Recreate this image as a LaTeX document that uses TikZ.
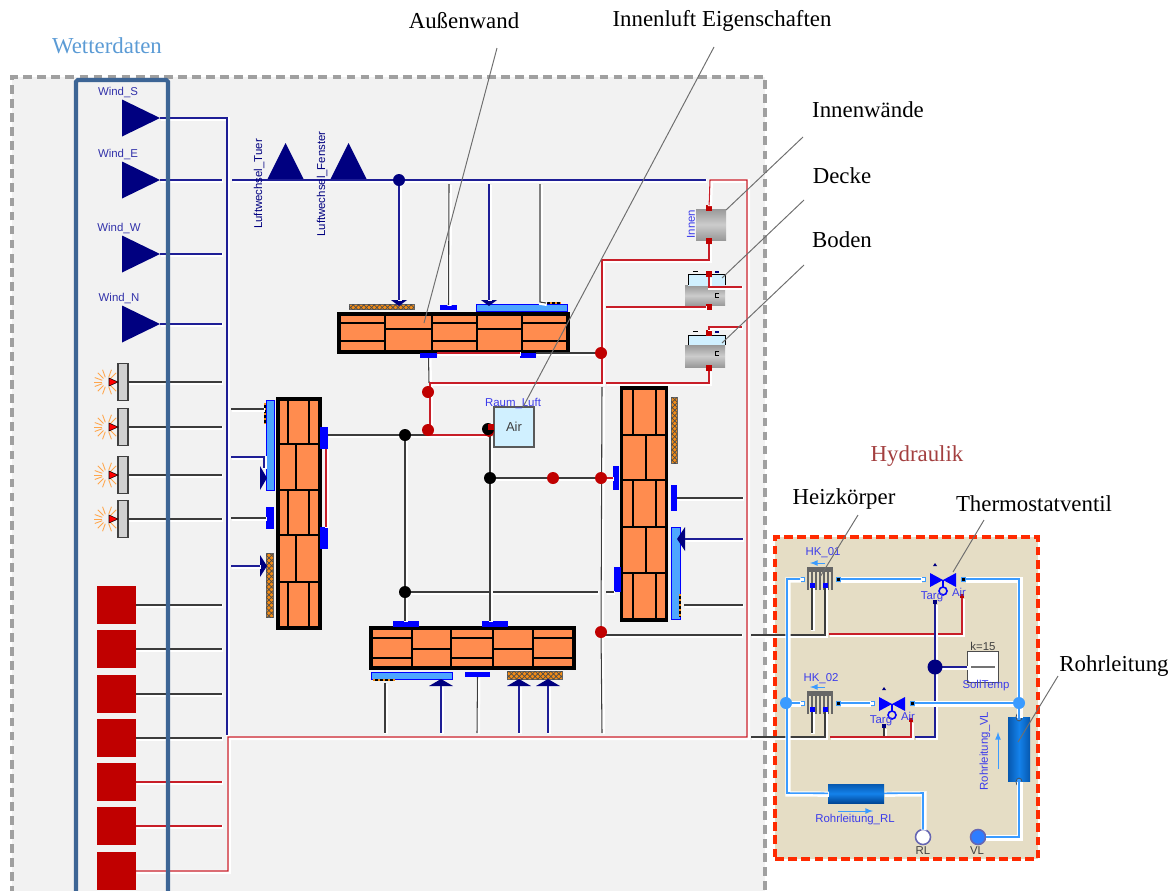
\documentclass[tikz,border=0pt]{standalone}
\usepackage{xcolor}
\usepackage{fontspec}
\usetikzlibrary{patterns}
\setmainfont{Liberation Serif}
\newfontfamily\modelfont{Liberation Sans}
\definecolor{room_gray}{RGB}{242,242,242}
\definecolor{dash_gray}{RGB}{160,160,160}
\definecolor{weather_blue}{RGB}{61,101,149}
\definecolor{weather_text}{RGB}{91,155,213}
\definecolor{hydro_text}{RGB}{163,63,63}
\definecolor{hydro_tan}{RGB}{229,221,197}
\definecolor{hydro_red}{RGB}{255,42,0}
\definecolor{brick_orange}{RGB}{255,140,79}
\definecolor{strip_orange}{RGB}{245,140,20}
\definecolor{pad_blue}{RGB}{0,0,255}
\definecolor{glass_blue}{RGB}{77,166,255}
\definecolor{air_cyan}{RGB}{208,240,255}
\definecolor{navy_wire}{RGB}{0,0,128}
\definecolor{navy_line}{RGB}{30,30,150}
\definecolor{red_wire}{RGB}{200,30,40}
\definecolor{red_dot}{RGB}{192,0,0}
\definecolor{black_wire}{RGB}{60,60,60}
\definecolor{water_blue}{RGB}{58,155,255}
\definecolor{pipe_blue}{RGB}{20,130,235}
\definecolor{pipe_dark}{RGB}{0,70,150}
\definecolor{label_blue}{RGB}{60,60,235}
\definecolor{wind_label}{RGB}{50,50,170}
\definecolor{leader_gray}{RGB}{110,110,110}
\tikzset{
  sized/.style 2 args={minimum width=#1*0.02cm,minimum height=#2*0.02cm},
  halo/.style={preaction={draw=white,line width=#1,transform canvas={xshift=.5pt,yshift=-.5pt}}},
  navywire/.style={draw=navy_line,line width=.7pt,halo=2.4pt},
  blackwire/.style={draw=black_wire,line width=.6pt,halo=2.4pt},
  redwire/.style={draw=red_wire,line width=.6pt,halo=2.4pt},
  waterwire/.style={draw=water_blue,line width=.9pt,halo=3pt},
  brick/.style={black,line width=1.5pt},
  wallbox/.style={draw=black,line width=1.8pt,fill=brick_orange},
  padbox/.style={fill=pad_blue},
  glassbox/.style={draw=pad_blue,line width=.5pt,fill=glass_blue},
  hatchbox/.style={draw=black!60,line width=.4pt,fill=strip_orange,postaction={pattern=crosshatch,pattern color=black!70}},
  reddot/.style={circle,fill=red_dot,minimum size=0.24cm},
  blackdot/.style={circle,fill=black,minimum size=0.24cm},
  navydot/.style={circle,fill=navy_wire,minimum size=0.24cm},
  waterdot/.style={circle,fill=water_blue,minimum size=0.24cm},
  smallred/.style={fill=red_dot,minimum size=0.11cm},
  greyblock/.style={top color=black!40,bottom color=black!40,middle color=black!20},
  modellabel/.style={font=\modelfont\fontsize{6.5}{7}\selectfont,text=label_blue},
  sidetext/.style={font=\fontsize{13}{15}\selectfont,text=black},
  leader/.style={draw=leader_gray,line width=.55pt}
}

\begin{document}
\begin{tikzpicture}[x=0.02cm,y=-0.02cm,every node/.style={inner sep=0pt,outer sep=0pt}]
  \clip (0,0) rectangle (1175,890);

  % Room
  \fill[room_gray] (12,77) rectangle (765,895);
  \draw[dash_gray,line width=1.8pt,dash pattern=on 5pt off 3pt] (12,895) -- (12,77) -- (765,77) -- (765,895);

  % Hydraulik box
  \node[fill=hydro_tan,draw=hydro_red,line width=1.8pt,dash pattern=on 5pt off 2.5pt,sized={263}{322}] (hydroBox) at (906.5,698) {};

  % Wind sources
  \foreach \name/\ypos in {S/118,E/180,W/254,N/324} {
    \fill[navy_wire] (122,\ypos-18.5) -- (160,\ypos) -- (122,\ypos+18.5) -- cycle;
    \coordinate (wind\name) at (160,\ypos);
    \coordinate (stub\name) at (222,\ypos);
  }

  % Air change sources
  \foreach \name/\xpos in {Tuer/285.5,Fenster/348.5} {
    \fill[navy_wire] (\xpos-18.5,180) -- (\xpos,143) -- (\xpos+18.5,180) -- cycle;
  }

  % Lamps
  \foreach \i/\ypos in {1/382,2/427,3/475,4/519} {
    \foreach \a in {45,70,110,135,160,180,200,225,250,290,315} {
      \draw[orange!70,line width=.5pt] ([shift={(\a:5)}]107,\ypos) -- ([shift={(\a:13)}]107,\ypos);
    }
    \node[draw=black!75,line width=.6pt,fill=black!18,sized={10}{37}] (lamp\i) at (123,\ypos) {};
    \fill[red,draw=black,line width=.3pt] (109,\ypos-4) -- (118,\ypos) -- (109,\ypos+4) -- cycle;
    \coordinate (lampEnd\i) at (222,\ypos);
  }

  % Red inputs
  \foreach \i/\ypos in {1/605,2/649,3/694,4/738,5/782,6/826,7/871} {
    \node[fill=red_dot,sized={39}{38}] (input\i) at (116.5,\ypos) {};
    \coordinate (inputEnd\i) at (222,\ypos);
  }

  % Wall north
  \node[wallbox,sized={229}{38}] (wallNorth) at (453.5,333) {};
  \foreach \xpos in {385,432,477,522} \draw[brick] (\xpos,314) -- (\xpos,352);
  \foreach \xa/\xb in {339/385,432/477,522/568} {
    \draw[brick] (\xa,323) -- (\xb,323);
    \draw[brick] (\xa,341) -- (\xb,341);
  }
  \foreach \xa/\xb in {385/432,477/522} \draw[brick] (\xa,329) -- (\xb,329);

  % Wall south
  \node[wallbox,sized={203}{40}] (wallSouth) at (472.5,648) {};
  \foreach \xpos in {412,451,493,533} \draw[brick] (\xpos,628) -- (\xpos,668);
  \foreach \xa/\xb in {371/412,451/493,533/574} {
    \draw[brick] (\xa,638) -- (\xb,638);
    \draw[brick] (\xa,658) -- (\xb,658);
  }
  \foreach \xa/\xb in {412/451,493/533} \draw[brick] (\xa,649) -- (\xb,649);

  % Wall west
  \node[wallbox,sized={42}{229}] (wallWest) at (299,513.5) {};
  \foreach \ypos in {444,490,535,582} \draw[brick] (278,\ypos) -- (320,\ypos);
  \foreach \ya/\yb in {399/444,490/535,582/628} {
    \draw[brick] (288,\ya) -- (288,\yb);
    \draw[brick] (309,\ya) -- (309,\yb);
  }
  \foreach \ya/\yb in {444/490,535/582} \draw[brick] (296,\ya) -- (296,\yb);

  % Wall east
  \node[wallbox,sized={45}{232}] (wallEast) at (644,504) {};
  \foreach \ypos in {435,480,527,573} \draw[brick] (622,\ypos) -- (666,\ypos);
  \foreach \ya/\yb in {388/435,480/527,573/620} {
    \draw[brick] (633,\ya) -- (633,\yb);
    \draw[brick] (656,\ya) -- (656,\yb);
  }
  \foreach \ya/\yb in {435/480,527/573} \draw[brick] (646,\ya) -- (646,\yb);

  % Pads, strips and windows on the walls
  \foreach \name/\xpos/\ypos/\w/\h in {
    RoofA/448.5/307.5/17/5, NorthA/428.5/355.5/17/5, NorthB/528/355.5/16/5,
    WestA/324/438/8/22, WestB/324/538/8/22, WestC/270/518/8/22,
    SouthA/406/624/26/6, SouthB/495/624/26/6, SouthC/477.5/674.5/25/5,
    EastA/616/478/6/24, EastB/617.5/579.5/7/25, EastC/674/498/6/26} {
    \node[padbox,sized={\w}{\h}] (pad\name) at (\xpos,\ypos) {};
  }
  \foreach \name/\xpos/\ypos/\w/\h in {North/521.5/307.5/91/7, West/270/445/8/90, South/411.5/675.5/81/7, East/675.5/573/9/92} {
    \node[glassbox,sized={\w}{\h}] (glass\name) at (\xpos,\ypos) {};
  }
  \foreach \name/\xpos/\ypos/\w/\h in {North/381.5/306.5/65/5, West/269.5/585/7/64, South/534.5/675/55/8, East/674/430/6/66} {
    \node[hatchbox,sized={\w}{\h}] (strip\name) at (\xpos,\ypos) {};
  }

  % Solar marks
  \foreach \xa/\ya/\xb/\yb in {545/303/561/303, 265/403/265/423, 373/680/395/680, 680/594/680/617} {
    \draw[black,line width=1.4pt] (\xa,\ya) -- (\xb,\yb);
    \draw[strip_orange,line width=1pt,dash pattern=on 1.4pt off 1.4pt] (\xa,\ya) -- (\xb,\yb);
  }

  % Wind marks on the walls
  \foreach \name/\xpos/\ypos/\hw/\d in {TopA/399/300/8/6, TopB/489/300/8/6, BotA/441/686/12/-7, BotB/519/686/12/-7, BotC/548/686/12/-7} {
    \fill[navy_wire] (\xpos-\hw,\ypos) -- (\xpos+\hw,\ypos) -- (\xpos,\ypos+\d) -- cycle;
    \coordinate (mark\name) at (\xpos,\ypos);
  }
  \foreach \name/\xpos/\ypos/\hw/\d in {WestA/260/478/12/7, WestB/260/566/11/7, EastA/685/539/12/-8} {
    \fill[navy_wire] (\xpos,\ypos-\hw) -- (\xpos,\ypos+\hw) -- (\xpos+\d,\ypos) -- cycle;
    \coordinate (mark\name) at (\xpos,\ypos);
  }

  % Room air
  \node[draw=black!65,line width=.6pt,fill=air_cyan,sized={40}{40},font=\modelfont\fontsize{7.4}{8}\selectfont,text=black!75] (airBox) at (514,427) {Air};

  % Inner walls, ceiling, floor
  \node[greyblock,sized={30}{31}] (innen) at (711,224.5) {};
  \node[greyblock,sized={40}{20}] (decke) at (705,295.5) {};
  \node[fill=air_cyan,sized={37}{11}] (deckeTop) at (706.5,280) {};
  \draw[black,line width=.5pt] (688,285) -- (688,274) -- (725,274) -- (725,285);
  \node[greyblock,sized={40}{22}] (boden) at (705,356) {};
  \node[fill=air_cyan,sized={37}{10}] (bodenTop) at (706.5,340) {};
  \draw[black,line width=.5pt] (688,345) -- (688,335) -- (725,335) -- (725,345);
  \foreach \ypos in {272,332} {
    \fill[black] (693,\ypos-1) rectangle (698,\ypos);
    \fill[navy_wire] (715,\ypos-1) rectangle (719,\ypos+1);
  }
  \foreach \ypos in {293,351} \draw[black,line width=.5pt] (719,\ypos) -- (715,\ypos) -- (715,\ypos+4) -- (719,\ypos+4);
  \foreach \name/\ypos in {InnenTop/208,InnenBot/241,DeckeTop/274,DeckeBot/307,BodenTop/333,BodenBot/368} {
    \node[smallred] (port\name) at (709,\ypos) {};
  }

  % Radiators
  \foreach \hk/\ypos in {01/579,02/703} {
    \node[fill=black!60,sized={26}{5}] (hk\hk) at (819.5,\ypos-10) {};
    \foreach \xb in {808,812,...,832} \draw[black!60,line width=1.3pt] (\xb,\ypos-10) -- (\xb,\ypos+11);
    \draw[water_blue,line width=.5pt,-latex] (825,\ypos-16) -- (810,\ypos-16);
    \node[padbox,sized={5}{5}] (hk\hk a) at (812,\ypos+6) {};
    \node[padbox,sized={5}{5}] (hk\hk b) at (825,\ypos+6) {};
    \node[draw=water_blue,line width=.5pt,fill=white,sized={4}{4}] (hk\hk in) at (802,\ypos) {};
    \node[draw=water_blue,line width=.5pt,fill=black,sized={4}{4}] (hk\hk out) at (838,\ypos) {};
  }

  % Valves
  \foreach \vv/\cx/\cy in {A/943/579,B/892/703} {
    \fill[pad_blue] (\cx-13,\cy-6) -- (\cx,\cy+1) -- (\cx+13,\cy-6) -- (\cx+13,\cy+8) -- (\cx,\cy+1) -- (\cx-13,\cy+8) -- cycle;
    \draw[pad_blue,line width=.9pt] (\cx,\cy+1) -- (\cx,\cy+8);
    \draw[pad_blue,line width=.9pt] (\cx,\cy+12) circle [radius=4];
    \fill[navy_wire] (\cx-10,\cy-13) -- (\cx-8,\cy-16) -- (\cx-6,\cy-13) -- cycle;
    \node[draw=water_blue,line width=.5pt,fill=white,sized={4}{4}] (valve\vv in) at (\cx-20,\cy) {};
    \node[draw=water_blue,line width=.5pt,fill=black,sized={4}{4}] (valve\vv out) at (\cx+20,\cy) {};
    \node[smallred,minimum size=0.08cm] (valve\vv air) at (\cx+19,\cy+17) {};
    \node[fill=navy_wire,minimum size=0.07cm] (valve\vv set) at (\cx-8,\cy+23) {};
    \node[modellabel] (targ\vv) at (\cx-11,\cy+18) {Targ};
    \node[modellabel] (air\vv) at (\cx+16,\cy+13) {Air};
  }

  % Set point
  \node[draw=black!70,line width=.5pt,fill=white,sized={31}{31}] (sollTemp) at (982.5,667) {};
  \draw[black!55,line width=.9pt] (971,667) -- (995,667);
  \node[font=\modelfont\fontsize{6.5}{7}\selectfont,text=black!75] (sollK) at (983,646) {k=15};
  \node[modellabel] (lblSoll) at (986,686) {SollTemp};

  % Pipes
  \node[top color=pipe_dark!70!pipe_blue,bottom color=pipe_dark,middle color=pipe_blue,sized={56}{19}] (pipeRL) at (856,793.5) {};
  \node[left color=pipe_dark!70!pipe_blue,right color=pipe_dark!70!pipe_blue,middle color=pipe_blue,sized={22}{64}] (pipeVL) at (1019,749.5) {};
  \foreach \ypos in {717,782} \draw[black!70,line width=.4pt,fill=water_blue] (1019,\ypos) ellipse [x radius=3,y radius=4];
  \node[circle,draw=navy_wire!60,line width=.9pt,fill=white,minimum size=0.3cm] (portRL) at (923,837) {};
  \node[circle,draw=navy_wire!60,line width=.9pt,fill=water_blue!80!blue,minimum size=0.3cm] (portVL) at (978,837) {};

  % Junction points
  \foreach \name/\xpos/\ypos in {
    navyTop/399/180, redNorth/601/353, redAirA/428/392, redAirB/428/430, blackWest/405/435,
    blackAir/488/429, blackMid/490/478, redMid/553/478, redEast/601/478, blackSouth/405/592,
    redSouth/601/632, navyHydro/935/667, waterLeft/786/703, waterRight/1019/703,
    busStart/232/180, busEnd/227/735, topEnd/706/180, redTopA/710/180, redTopB/747/180, redBotB/747/737, redBotA/228/737,
    innenA/709/260, innenB/602/260, bodenA/709/383, bodenB/606/383, floorA/602/383, floorB/430/383,
    wallTie/429/383, deckeL/606/307, deckeA/709/287, deckeB/742/287, bodenC/709/327, bodenD/742/327,
    dropA/449/184, dropB/489/184, dropC/540/184, dropD/540/302, solarNorth/546/303,
    stubWA/231/409, stubWB/231/457, stubWBc/264/457, stubWBd/264/468, stubWC/231/518, stubWD/231/566, solarWA/264/409,
    stubEA/743/498, stubEB/743/539, stubEC/743/605, solarEC/684/605,
    stubSA/385/733, stubSB/441/733, stubSC/477/733, stubSD/519/733, stubSE/548/733, solarSA/385/683,
    lineEastTop/602/387, lineEastBot/602/733, eastGapA/598/592, eastGapB/606/592, eastPadB/614/592,
    westA/328/435, westB/430/435, westC/487/435, westRedA/326/449, westRedB/326/527,
    southDropA/405/621, southDropB/490/621, airDrop/490/436, northA/437/353, northB/520/353, northC/536/353,
    southWire/602/635, hkA/742/635, hkB/751/635, hkC/825/635, hkD/812/630, hkE/829/634, hkF/962/634,
    hkG/751/737, hkH/825/737, hkI/812/733, hkJ/830/737, hkK/911/737, hkL/915/737, hkM/935/737, hkN/884/737,
    waterA/787/579, waterB/787/793, waterC/923/793, waterD/1019/837, waterE/1019/579} {
    \coordinate (\name) at (\xpos,\ypos);
  }

  % Navy wires
  \draw[navywire] (windS) -| (busEnd);
  \foreach \name in {E,W,N} \draw[navywire] (wind\name) -- (stub\name);
  \draw[navywire] (busStart) -- (topEnd);
  \draw[navywire] (navyTop) -- (markTopA);
  \draw[navywire] (dropB) -- (markTopB);
  \draw[navywire] (stubWB) -- (stubWBc) -- (stubWBd);
  \draw[navywire] (stubWD) -- (markWestB);
  \draw[navywire] (stubEB) -- (markEastA);
  \draw[navywire] (stubSB) -- (markBotA);
  \draw[navywire] (stubSD) -- (markBotB);
  \draw[navywire] (stubSE) -- (markBotC);

  % Black wires
  \foreach \i in {1,2,3,4} {
    \draw[blackwire] (lamp\i) -- (lampEnd\i);
    \draw[blackwire] (input\i) -- (inputEnd\i);
  }
  \draw[blackwire] (dropA) -- (padRoofA);
  \draw[blackwire] (dropC) -- (dropD) -- (solarNorth);
  \draw[blackwire] (stubWA) -- (solarWA);
  \draw[blackwire] (stubWC) -- (padWestC);
  \draw[blackwire] (westA) -- (westB);
  \draw[blackwire] (blackWest) -- (blackSouth) -- (southDropA);
  \draw[blackwire] (blackSouth) -- (eastGapA);
  \draw[blackwire] (eastGapB) -- (eastPadB);
  \draw[blackwire] (airDrop) -- (blackMid) -- (southDropB);
  \draw[blackwire] (blackMid) -- (redEast);
  \draw[blackwire] (lineEastTop) -- (redSouth) -- (lineEastBot);
  \draw[blackwire] (padNorthA) -- (wallTie);
  \draw[blackwire] (northC) -- (redNorth);
  \draw[blackwire] (padEastC) -- (stubEA);
  \draw[blackwire] (solarEC) -- (stubEC);
  \draw[blackwire] (solarSA) -- (stubSA);
  \draw[blackwire] (padSouthC) -- (stubSC);
  \draw[blackwire] (southWire) -- (hkA);
  \draw[blackwire] (hkB) -- (hkC) -- (hk01b);
  \draw[blackwire] (hk01a) -- (hkD);
  \draw[blackwire] (hkG) -- (hkH) -- (hk02b);
  \draw[blackwire] (hk02a) -- (hkI);
  \draw[blackwire] (valveBset) -- (hkN);

  % Red wires
  \foreach \i in {5,6} \draw[redwire] (input\i) -- (inputEnd\i);
  \draw[redwire] (input7) -| (redBotA) -- (redBotB) -- (redTopB) -- (redTopA) -- (portInnenTop);
  \draw[redwire] (portInnenBot) -- (innenA) -- (innenB) -- (floorA) -- (floorB) -- (westB) -- (westC);
  \draw[redwire] (portBodenBot) -- (bodenA) -- (bodenB);
  \draw[redwire] (portDeckeBot) -- (deckeL);
  \draw[redwire] (portDeckeTop) -- (deckeA) -- (deckeB);
  \draw[redwire] (portBodenTop) -- (bodenC) -- (bodenD);
  \draw[redwire] (northA) -- (northB);
  \draw[redwire] (westRedA) -- (westRedB);
  \draw[redwire] (redEast) -- (padEastA);
  \draw[redwire] (hkE) -- (hkF) -- (valveAair);
  \draw[redwire] (hkJ) -- (hkK) -- (valveBair);

  % Thermostat signal
  \draw[navywire] (hkL) -- (hkM) -- (valveAset);
  \draw[navywire,line width=.9pt] (navyHydro) -- (sollTemp);

  % Water wires
  \draw[waterwire] (hk01in) -- (waterA) -- (waterB) -- (pipeRL);
  \draw[waterwire] (hk02in) -- (waterLeft);
  \draw[waterwire] (pipeRL) -- (waterC) -- (portRL);
  \draw[waterwire] (portVL) -- (waterD) -- (pipeVL);
  \draw[waterwire] (pipeVL) -- (waterRight) -- (waterE) -- (valveAout);
  \draw[waterwire] (hk01out) -- (valveAin);
  \draw[waterwire] (hk02out) -- (valveBin);
  \draw[waterwire] (valveBout) -- (waterRight);

  % Dots on top of the wires
  \foreach \name/\pos in {dotNorth/redNorth,dotAirA/redAirA,dotAirB/redAirB,dotMid/redMid,dotEast/redEast,dotSouth/redSouth} {
    \node[reddot] (\name) at (\pos) {};
  }
  \node[reddot,minimum size=0.2cm] (dotAirC) at (489,432) {};
  \foreach \name/\pos in {dotWest/blackWest,dotAir/blackAir,dotBlack/blackMid,dotLow/blackSouth} {
    \node[blackdot] (\name) at (\pos) {};
  }
  \node[fill=red_dot,sized={6}{6}] (dotAirSq) at (491,427) {};
  \node[navydot] (dotTop) at (navyTop) {};
  \node[navydot,minimum size=0.3cm] (dotHydro) at (navyHydro) {};
  \node[waterdot] (dotWaterL) at (waterLeft) {};
  \node[waterdot] (dotWaterR) at (waterRight) {};

  % Weather box
  \node[draw=weather_blue,line width=2.4pt,rounded corners=1pt,sized={92}{830}] (weatherBox) at (122,495) {};

  % Model labels
  \foreach \name/\xpos/\ypos in {S/118/92,E/118/154,W/119/228,N/119/298} {
    \node[modellabel,text=wind_label] (lblWind\name) at (\xpos,\ypos) {Wind\_\name};
  }
  \node[modellabel,rotate=90,text=navy_wire] (lblTuer) at (259,184) {Luftwechsel\_Tuer};
  \node[modellabel,rotate=90,text=navy_wire] (lblFenster) at (322,184) {Luftwechsel\_Fenster};
  \node[modellabel] (lblRaum) at (513,403) {Raum\_Luft};
  \node[modellabel,rotate=90] (lblInnen) at (691,224) {Innen};
  \node[modellabel] (lblHK1) at (823,553) {HK\_01};
  \node[modellabel] (lblHK2) at (821,679) {HK\_02};
  \node[modellabel] (lblPipeRL) at (855,820) {Rohrleitung\_RL};
  \node[modellabel,rotate=90] (lblPipeVL) at (985,751) {Rohrleitung\_VL};
  \node[font=\modelfont\fontsize{6.5}{7}\selectfont,text=black!75] (lblRL) at (923,851) {RL};
  \node[font=\modelfont\fontsize{6.5}{7}\selectfont,text=black!75] (lblVL) at (977,851) {VL};
  \draw[water_blue,line width=.5pt,-latex] (838,811) -- (873,811);
  \draw[water_blue,line width=.5pt,-latex] (998,769) -- (998,732);

  % Leaders
  \foreach \name/\xa/\ya/\xb/\yb in {
    aussen/497/48/424/323, luft/714/47/523/407, innen/803/137/726/210, decke/804/200/722/278,
    boden/804/265/722/343, heiz/858/515/820/577, thermo/984/520/953/572, rohr/1058/676/1018/742} {
    \coordinate (\name From) at (\xa,\ya);
    \coordinate (\name To) at (\xb,\yb);
    \draw[leader] (\name From) -- (\name To);
  }

  % Side texts
  \node[sidetext,text=weather_text] (txtWetter) at (107,46) {Wetterdaten};
  \node[sidetext,text=hydro_text] (txtHydro) at (917,456) {Hydraulik};
  \node[sidetext] (txtAussen) at (464,21) {Außenwand};
  \node[sidetext] (txtLuft) at (722,21) {Innenluft Eigenschaften};
  \node[sidetext] (txtInnen) at (868,110) {Innenwände};
  \node[sidetext] (txtDecke) at (842,176) {Decke};
  \node[sidetext] (txtBoden) at (842,240) {Boden};
  \node[sidetext] (txtHeiz) at (844,499) {Heizkörper};
  \node[sidetext] (txtThermo) at (1034,504) {Thermostatventil};
  \node[sidetext] (txtRohr) at (1114,666) {Rohrleitung};

\end{tikzpicture}
\end{document}
